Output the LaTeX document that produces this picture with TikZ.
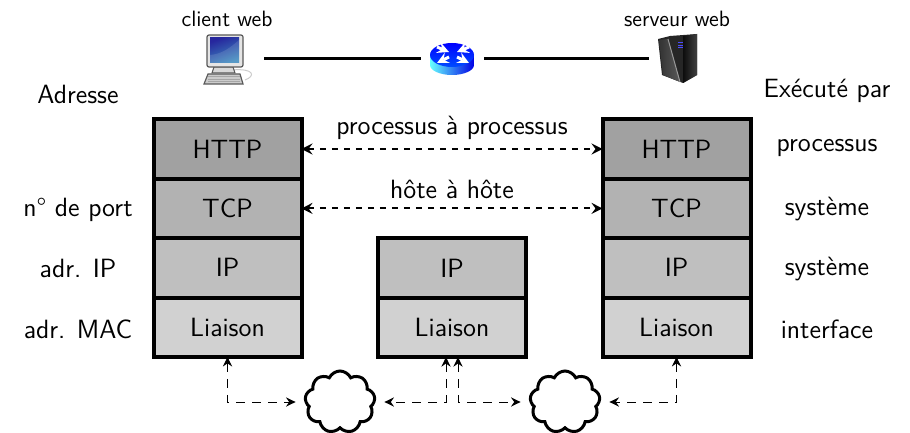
\documentclass[tikz,border=0pt]{standalone}
\usepackage{tikz}
\usetikzlibrary{arrows.meta,positioning,shapes.symbols,calc}
\renewcommand{\familydefault}{\sfdefault}
\newcommand{\grandtexte}{\fontsize{13.2}{15}\selectfont}
\newcommand{\petittexte}{\fontsize{11.1}{13}\selectfont}
\tikzset{
    layer/.style={rectangle, draw=black, line width=2pt, outer sep=0pt, minimum width=74pt, minimum height=29.7pt, font=\grandtexte},
    httplayer/.style={layer, fill=black!37},
    tcplayer/.style={layer, fill=black!30},
    iplayer/.style={layer, fill=black!25},
    linklayer/.style={layer, fill=black!18},
    icon/.style={rectangle, inner sep=0pt},
    nuage/.style={cloud, cloud puffs=9, cloud puff arc=130, aspect=1.15, draw=black, line width=1.5pt, minimum width=35pt, minimum height=31pt, inner sep=0pt, outer sep=5pt},
    pair/.style={{Stealth[inset=2pt,length=5.5pt,width=5.5pt]}-{Stealth[inset=2pt,length=5.5pt,width=5.5pt]}, line width=1pt, dashed},
    lien/.style={{Stealth[inset=1.6pt,length=4.8pt,width=4.6pt]}-{Stealth[inset=1.6pt,length=4.8pt,width=4.6pt]}, line width=.5pt, dash pattern=on 4.5pt off 3.5pt},
    marge/.style={font=\grandtexte}
}
\begin{document}
\begin{tikzpicture}[x=.5pt, y=-.5pt]
    \useasboundingbox (0,0) rectangle (910,433);

    %Stacks
    \node (httpa) [httplayer] at (227.5,149) {HTTP};
    \node (tcpa)  [tcplayer, below=0pt of httpa]  {TCP};
    \node (ipa)   [iplayer, below=0pt of tcpa]    {IP};
    \node (lka)   [linklayer, below=0pt of ipa]   {Liaison};

    \node (httpc) [httplayer] at (676.5,149) {HTTP};
    \node (tcpc)  [tcplayer, below=0pt of httpc]  {TCP};
    \node (ipc)   [iplayer, below=0pt of tcpc]    {IP};
    \node (lkc)   [linklayer, below=0pt of ipc]   {Liaison};

    \node (ipb)   [iplayer] at (452,268) {IP};
    \node (lkb)   [linklayer, below=0pt of ipb]   {Liaison};

    %Icons
    \node (client) [icon, minimum width=37pt, minimum height=25pt] at (227,59) {};
    \node (router) [icon, minimum width=31.5pt, minimum height=25pt] at (452.5,59) {};
    \node (server) [icon, minimum width=28pt, minimum height=25pt] at (677,59) {};

    \begin{scope}
    \draw[gray!40, line width=.5pt] (232,70) .. controls (254,68) and (256,76) .. (245,80);
    \draw[gray!70!black, fill=gray!30, line width=.5pt] (214,67) -- (233,67) -- (235,73) -- (212,73) -- cycle;
    \draw[gray!70!black, fill=gray!20, line width=.6pt, rounded corners=1pt] (207,35) rectangle (243,67);
    \shade[top color=blue!55!black!85, bottom color=blue!40!cyan!50!gray, shading angle=20] (210,38) rectangle (239,63);
    \fill[white, opacity=.12] (210,63) -- (210,55) .. controls (222,54) and (230,48) .. (239,40) -- (239,63) -- cycle;
    \draw[gray!70!black, fill=gray!40, line width=.6pt] (208,74) -- (240,74) -- (243,84) -- (204,84) -- cycle;
    \foreach \y in {76.5,79,81.5} \draw[gray!70, line width=.4pt] (208,\y) -- (240,\y);
    \end{scope}

    \begin{scope}
    \shade[left color=cyan!60, right color=blue!90!black] (430,55) -- (430,65) arc[start angle=180, end angle=360, x radius=22, y radius=-10] -- (474,55) -- cycle;
    \shade[top color=blue, bottom color=blue!70!cyan] (452,55) ellipse [x radius=22, y radius=12];
    \foreach \ax/\ay/\bx/\by in {437/47/449/52, 469/47/457/52, 449/57/437/63, 457/57/469/63}
        \draw[white, line width=1.5pt, -stealth] (\ax,\ay) -- (\bx,\by);
    \end{scope}

    \begin{scope}
    \fill[black!85] (658,39) -- (670,36) -- (697,34) -- (697,75) -- (683,83) -- (662,75) -- cycle;
    \shade[left color=black!80, right color=black!65] (659,40) -- (668,39) -- (680,82) -- (663,75) -- cycle;
    \draw[black!40, line width=.5pt] (668,39) -- (680,82);
    \shade[left color=black!95, right color=black!75] (683,36) -- (697,34) -- (697,75) -- (683,83) -- cycle;
    \foreach \y in {43,45.5,48} \draw[blue!70, line width=.5pt] (678,\y) -- (683,\y);
    \end{scope}

    \node (lbclient) [above=0pt of client, font=\petittexte] {client web};
    \node (lbserver) [above=0pt of server, font=\petittexte] {serveur web};

    %Clouds
    \node (nuagea) [nuage] at (340,402) {};
    \node (nuageb) [nuage] at (565,402) {};

    %Margins
    \node (adresse) [marge] at (78,94)  {Adresse};
    \node (port)    [marge] at (78,210) {n\textdegree{} de port};
    \node (adrip)   [marge] at (78,268) {adr. IP};
    \node (adrmac)  [marge] at (78,329) {adr. MAC};

    \node (execute) [marge] at (827,91)  {Exécuté par};
    \node (proc)    [marge] at (827,148) {processus};
    \node (systa)   [marge] at (827,209) {système};
    \node (systb)   [marge] at (827,269) {système};
    \node (iface)   [marge] at (827,329) {interface};

    %Lines
    \draw[line width=1.5pt] (client) -- (router);
    \draw[line width=1.5pt] (router) -- (server);
    \draw[pair] (httpa) -- node[above=1pt, font=\grandtexte] {processus à processus} (httpc);
    \draw[pair] (tcpa)  -- node[above=1pt, font=\grandtexte] {hôte à hôte} (tcpc);

    \draw[lien] (lka.south) |- (nuagea.west);
    \draw[lien] ([xshift=-3pt]lkb.south) |- (nuagea.east);
    \draw[lien] ([xshift=3pt]lkb.south) |- (nuageb.west);
    \draw[lien] (lkc.south) |- (nuageb.east);
\end{tikzpicture}
\end{document}
